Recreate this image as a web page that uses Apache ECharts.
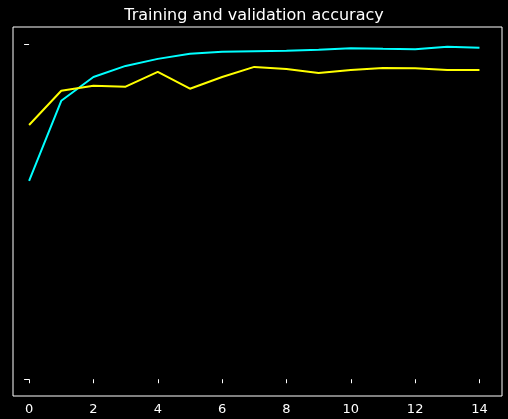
<!DOCTYPE html>
<html><head><meta charset="utf-8">
<script src="https://cdn.jsdelivr.net/npm/echarts@6/dist/echarts.min.js"></script>
<style>html,body{margin:0;background:#000}#c{width:508px;height:419px}</style>
</head><body><div id="c"></div>
<script>
const epochs = [0,1,2,3,4,5,6,7,8,9,10,11,12,13,14];
const trainAcc = [0.591,0.830,0.901,0.934,0.955,0.970,0.976,0.978,0.979,0.982,0.987,0.985,0.984,0.991,0.988];
const valAcc = [0.758,0.860,0.875,0.872,0.916,0.866,0.901,0.931,0.925,0.913,0.922,0.928,0.927,0.922,0.922];
const xTicks = [0,2,4,6,8,10,12,14];
const yTicks = [0,1];
const chart = echarts.init(document.getElementById('c'));
chart.setOption({
  backgroundColor:'#000',
  animation:false,
  title:{text:'Training and validation accuracy',left:'center',top:3,textStyle:{color:'#fff',fontSize:16,fontWeight:'normal',fontFamily:'DejaVu Sans'}},
  grid:{left:13,right:6,top:27,bottom:23,show:true,borderColor:'#fff',borderWidth:1},
  xAxis:{type:'value',min:-0.5,max:14.7,
    axisLine:{show:false},splitLine:{show:false},
    axisTick:{show:true,customValues:xTicks,length:4,lineStyle:{color:'#fff'}},
    axisLabel:{customValues:xTicks,color:'#fff',fontSize:13,fontFamily:'DejaVu Sans',margin:7}},
  yAxis:{type:'value',min:-0.05,max:1.05,
    axisLine:{show:false},splitLine:{show:false},
    axisTick:{show:true,customValues:yTicks,length:5,lineStyle:{color:'#fff'}},
    axisLabel:{show:false}},
  series:[
    {type:'line',data:epochs.map((e,i)=>[e,trainAcc[i]]),showSymbol:false,lineStyle:{color:'#00ffff',width:2},itemStyle:{color:'#00ffff'}},
    {type:'line',data:epochs.map((e,i)=>[e,valAcc[i]]),showSymbol:false,lineStyle:{color:'#ffff00',width:2},itemStyle:{color:'#ffff00'}}
  ]
});
</script></body></html>
